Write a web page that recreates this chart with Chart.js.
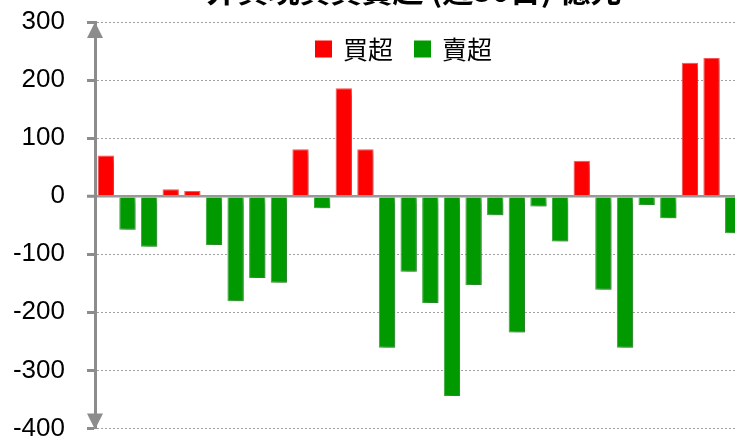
<!DOCTYPE html>
<html>
<head>
<meta charset="utf-8">
<script src="https://cdn.jsdelivr.net/npm/chart.js@4"></script>
<style>
  html, body { margin: 0; padding: 0; background: #fff; overflow: hidden; }
  body { width: 735px; height: 438px; position: relative; }
  #wrap { position: absolute; left: 0; top: -40px; width: 746px; height: 506px; }
</style>
</head>
<body>
<div id="wrap"><canvas id="flowChart"></canvas></div>
<script>
const days = ['1','2','3','4','5','6','7','8','9','10','11','12','13','14','15',
              '16','17','18','19','20','21','22','23','24','25','26','27','28','29','30'];
const netFlow = [70, -58, -87, 12, 9, -84, -181, -141, -149, 81, -21, 186, 81, -261, -130,
                 -184, -344, -153, -33, -235, -18, -78, 61, -161, -261, -15, -38, 230, 238, -64];
const yTicks = [300, 200, 100, 0, -100, -200, -300, -400];

const buyData = netFlow.map(v => v > 0 ? v : null);
const sellData = netFlow.map(v => v < 0 ? v : null);

const axisGray = '#8c8c8c';

// soft drop shadow under the bars
const barShadow = {
  id: 'barShadow',
  beforeDatasetsDraw(chart) {
    const c = chart.ctx;
    c.save();
    c.shadowColor = 'rgba(0,0,0,0.35)';
    c.shadowBlur = 6;
    c.shadowOffsetX = 3;
    c.shadowOffsetY = 3;
  },
  afterDatasetsDraw(chart) {
    chart.ctx.restore();
  }
};

// arrow heads on both ends of the y axis
const axisArrows = {
  id: 'axisArrows',
  afterDraw(chart) {
    const c = chart.ctx;
    const a = chart.chartArea;
    const x = a.left;
    c.save();
    c.fillStyle = axisGray;
    c.beginPath();
    c.moveTo(x, a.top);
    c.lineTo(x - 8, a.top + 16);
    c.lineTo(x + 8, a.top + 16);
    c.closePath();
    c.fill();
    c.beginPath();
    c.moveTo(x, a.bottom + 1);
    c.lineTo(x - 8, a.bottom - 15);
    c.lineTo(x + 8, a.bottom - 15);
    c.closePath();
    c.fill();
    c.restore();
  }
};

// legend row drawn inside the plot, a bit left of centre (like the original)
const innerLegend = {
  id: 'innerLegend',
  afterDraw(chart) {
    const c = chart.ctx;
    const y = chart.chartArea.top + 27;
    let x = 315;
    c.save();
    c.font = '25px "Noto Sans CJK TC"';
    c.textBaseline = 'middle';
    c.textAlign = 'left';
    chart.data.datasets.forEach(ds => {
      c.fillStyle = ds.backgroundColor;
      c.fillRect(x, y - 8.5, 17, 17);
      c.fillStyle = '#000';
      c.fillText(ds.label, x + 28, y);
      x += 28 + c.measureText(ds.label).width + 21;
    });
    c.restore();
  }
};

// title centre sits right of the canvas centre
const titleNudge = {
  id: 'titleNudge',
  afterLayout(chart) {
    chart.titleBlock.left += 42;
    chart.titleBlock.right += 42;
  }
};

const ctx = document.getElementById('flowChart').getContext('2d');
new Chart(ctx, {
  type: 'bar',
  data: {
    labels: days,
    datasets: [
      {
        label: '買超',
        data: buyData,
        backgroundColor: '#ff0000',
        borderColor: '#ff5a5a',
        borderWidth: 1
      },
      {
        label: '賣超',
        data: sellData,
        backgroundColor: '#009900',
        borderColor: '#3cb43c',
        borderWidth: 1
      }
    ]
  },
  options: {
    responsive: true,
    maintainAspectRatio: false,
    animation: false,
    categoryPercentage: 1,
    barPercentage: 0.755,
    layout: { padding: { left: 0, right: 2, top: 0, bottom: 0 } },
    plugins: {
      title: {
        display: true,
        text: '外資現貨買賣超 (近30日) 億元',
        color: '#000',
        font: { family: 'Noto Sans CJK TC', size: 31, weight: 'bold' },
        padding: { top: 12, bottom: 12.8 }
      },
      legend: { display: false },
      tooltip: { enabled: false }
    },
    scales: {
      x: {
        display: false,
        stacked: true
      },
      y: {
        stacked: true,
        min: -400,
        max: 300,
        afterFit(s) { s.width = 95; },
        afterBuildTicks(s) { s.ticks = yTicks.map(v => ({ value: v })); },
        ticks: {
          color: '#000',
          padding: 22,
          font: { family: 'Liberation Sans', size: 26 }
        },
        grid: {
          color: c => c.tick && c.tick.value === 0 ? '#999999' : '#a0a0a0',
          lineWidth: c => c.tick && c.tick.value === 0 ? 2.5 : 1,
          tickLength: 8,
          tickWidth: 3,
          tickColor: axisGray,
          tickBorderDash: []
        },
        border: {
          display: true,
          color: axisGray,
          width: 3,
          dash: c => c.tick && c.tick.value === 0 ? [] : [2, 2]
        }
      }
    }
  },
  plugins: [barShadow, axisArrows, innerLegend, titleNudge]
});
</script>
</body>
</html>
